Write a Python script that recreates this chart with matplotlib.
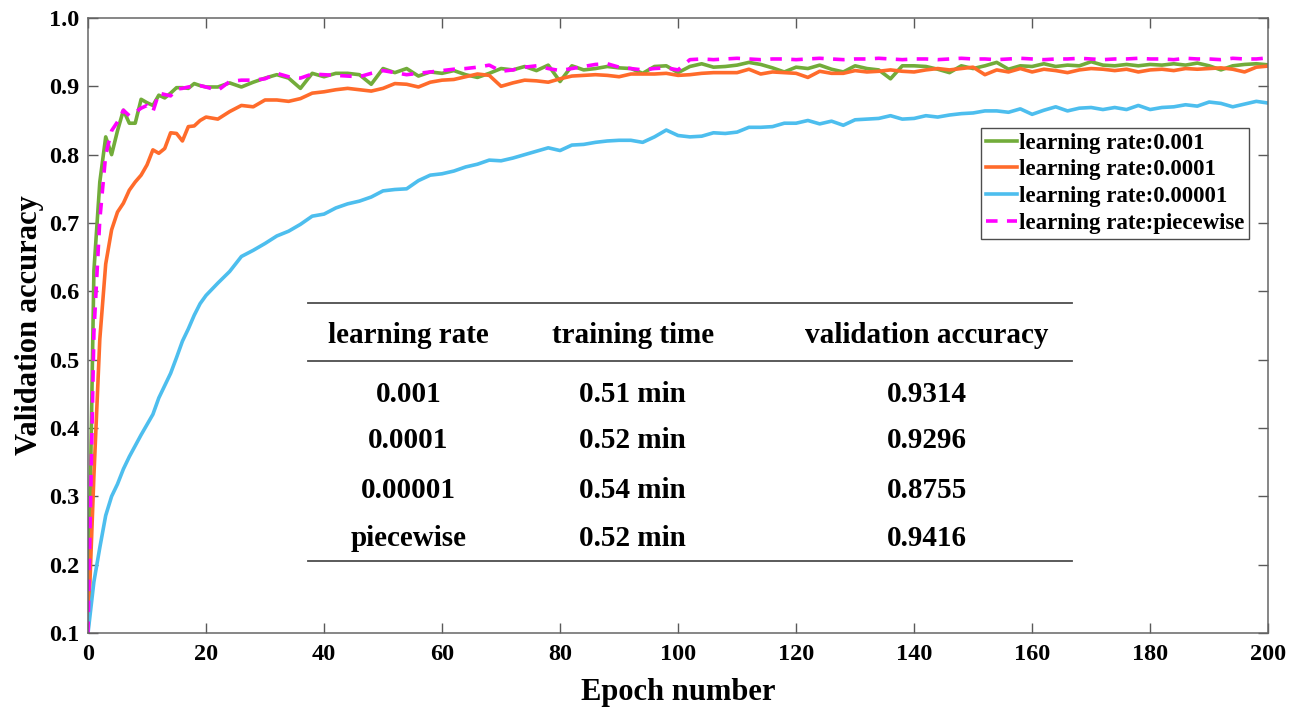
import numpy as np
import matplotlib
matplotlib.use('Agg')
import matplotlib.pyplot as plt
from matplotlib.ticker import FormatStrFormatter

plt.rcParams['font.family'] = ['Liberation Serif', 'DejaVu Serif']
plt.rcParams['font.weight'] = 'bold'
plt.rcParams['axes.labelweight'] = 'bold'

# epochs: every epoch up to 20, then every second epoch
epochs = list(range(0, 21)) + list(range(22, 201, 2))

acc_1e3 = [0.100, 0.630, 0.760, 0.826, 0.800, 0.835, 0.865, 0.846, 0.846, 0.881, 0.876,
           0.872, 0.887, 0.883, 0.890, 0.898, 0.898, 0.897, 0.904, 0.901, 0.899,
           0.899, 0.905, 0.899, 0.906, 0.912, 0.917, 0.912, 0.897, 0.919, 0.914,
           0.919, 0.919, 0.917, 0.903, 0.926, 0.920, 0.926, 0.915, 0.921, 0.919,
           0.923, 0.917, 0.913, 0.919, 0.926, 0.924, 0.929, 0.923, 0.931, 0.907,
           0.930, 0.924, 0.926, 0.929, 0.927, 0.926, 0.919, 0.929, 0.930, 0.920,
           0.929, 0.933, 0.928, 0.929, 0.931, 0.935, 0.932, 0.927, 0.921, 0.928,
           0.926, 0.931, 0.925, 0.921, 0.930, 0.926, 0.924, 0.911, 0.930, 0.930,
           0.929, 0.925, 0.920, 0.930, 0.926, 0.930, 0.935, 0.925, 0.930, 0.929,
           0.933, 0.929, 0.931, 0.930, 0.936, 0.931, 0.930, 0.932, 0.930, 0.932,
           0.931, 0.933, 0.931, 0.934, 0.930, 0.924, 0.930, 0.932, 0.933, 0.9314]

acc_1e4 = [0.100, 0.330, 0.530, 0.640, 0.690, 0.716, 0.729, 0.748, 0.760, 0.770, 0.785,
           0.807, 0.802, 0.809, 0.832, 0.831, 0.820, 0.841, 0.842, 0.850, 0.855,
           0.852, 0.863, 0.872, 0.870, 0.880, 0.880, 0.878, 0.882, 0.890, 0.892,
           0.895, 0.897, 0.895, 0.893, 0.897, 0.904, 0.903, 0.899, 0.906, 0.909,
           0.910, 0.914, 0.918, 0.916, 0.900, 0.905, 0.909, 0.908, 0.906, 0.911,
           0.915, 0.916, 0.917, 0.916, 0.914, 0.918, 0.918, 0.918, 0.919, 0.916,
           0.917, 0.919, 0.920, 0.920, 0.920, 0.925, 0.918, 0.921, 0.920, 0.919,
           0.913, 0.922, 0.919, 0.919, 0.923, 0.921, 0.922, 0.924, 0.922, 0.921,
           0.924, 0.926, 0.924, 0.926, 0.928, 0.917, 0.924, 0.921, 0.926, 0.921,
           0.925, 0.923, 0.920, 0.924, 0.926, 0.925, 0.923, 0.925, 0.921, 0.924,
           0.925, 0.923, 0.926, 0.925, 0.926, 0.927, 0.925, 0.921, 0.928, 0.9296]

acc_1e5 = [0.100, 0.175, 0.225, 0.272, 0.300, 0.318, 0.340, 0.358, 0.374, 0.390, 0.405,
           0.420, 0.444, 0.462, 0.480, 0.503, 0.527, 0.545, 0.565, 0.582, 0.594,
           0.612, 0.629, 0.651, 0.660, 0.670, 0.681, 0.688, 0.698, 0.710, 0.713,
           0.722, 0.728, 0.732, 0.738, 0.747, 0.749, 0.750, 0.762, 0.770, 0.772,
           0.776, 0.782, 0.786, 0.792, 0.791, 0.795, 0.800, 0.805, 0.810, 0.806,
           0.814, 0.815, 0.818, 0.820, 0.821, 0.821, 0.818, 0.826, 0.836, 0.828,
           0.826, 0.827, 0.832, 0.831, 0.833, 0.840, 0.840, 0.841, 0.846, 0.846,
           0.850, 0.845, 0.849, 0.843, 0.851, 0.852, 0.853, 0.857, 0.852, 0.853,
           0.857, 0.855, 0.858, 0.860, 0.861, 0.864, 0.864, 0.862, 0.867, 0.859,
           0.865, 0.870, 0.864, 0.868, 0.869, 0.866, 0.869, 0.866, 0.872, 0.866,
           0.869, 0.870, 0.873, 0.871, 0.877, 0.875, 0.870, 0.874, 0.878, 0.8755]

acc_piecewise = [0.100, 0.540, 0.705, 0.800, 0.835, 0.848, 0.865, 0.857, 0.862, 0.868, 0.872,
                 0.863, 0.890, 0.888, 0.886, 0.896, 0.897, 0.899, 0.900, 0.901, 0.899,
                 0.894, 0.907, 0.909, 0.909, 0.911, 0.919, 0.914, 0.912, 0.918, 0.917,
                 0.916, 0.915, 0.914, 0.919, 0.923, 0.920, 0.917, 0.919, 0.921, 0.923,
                 0.925, 0.926, 0.928, 0.931, 0.922, 0.924, 0.928, 0.930, 0.926, 0.923,
                 0.926, 0.929, 0.932, 0.933, 0.928, 0.926, 0.924, 0.926, 0.927, 0.924,
                 0.939, 0.940, 0.939, 0.940, 0.941, 0.940, 0.939, 0.940, 0.940, 0.939,
                 0.940, 0.941, 0.940, 0.939, 0.940, 0.940, 0.941, 0.940, 0.939, 0.940,
                 0.940, 0.939, 0.940, 0.941, 0.940, 0.940, 0.939, 0.940, 0.941, 0.940,
                 0.939, 0.940, 0.940, 0.941, 0.940, 0.939, 0.940, 0.940, 0.941, 0.940,
                 0.940, 0.939, 0.941, 0.940, 0.940, 0.939, 0.941, 0.940, 0.940, 0.9416]

# summary table
table_header = ['learning rate', 'training time', 'validation accuracy']
lr_names = ['0.001', '0.0001', '0.00001', 'piecewise']
train_times = ['0.51 min', '0.52 min', '0.54 min', '0.52 min']
final_acc = ['0.9314', '0.9296', '0.8755', '0.9416']

fig = plt.figure(figsize=(12.98, 7.16), dpi=100)
ax = fig.add_axes([0.0678, 0.1159, 0.9092, 0.8590])

lw = 2.6
ax.plot(epochs, acc_1e3, color='#72AC3A', lw=lw, label='learning rate:0.001')
ax.plot(epochs, acc_1e4, color='#FF6B2B', lw=lw, label='learning rate:0.0001')
ax.plot(epochs, acc_1e5, color='#4DBEEE', lw=lw, label='learning rate:0.00001')
ax.plot(epochs, acc_piecewise, color='#FF00FF', lw=lw, dashes=(3.2, 2.6),
        label='learning rate:piecewise')

ax.set_xlim(0, 200)
ax.set_ylim(0.1, 1.0)
ax.set_xticks(np.arange(0, 201, 20))
ax.set_yticks(np.arange(0.1, 1.01, 0.1))
ax.yaxis.set_major_formatter(FormatStrFormatter('%.1f'))
ax.tick_params(direction='in', top=True, right=True, length=7, width=1,
               color='0.35', labelsize=17.5)
ax.tick_params(axis='x', pad=8)
ax.tick_params(axis='y', pad=6)
for s in ax.spines.values():
    s.set_color('0.4')
    s.set_linewidth(1.1)

ax.set_xlabel('Epoch number', fontsize=22, labelpad=9)
ax.set_ylabel('Validation accuracy', fontsize=22, labelpad=4)

leg = ax.legend(loc='upper right', bbox_to_anchor=(0.984, 0.821), fontsize=16.5,
                frameon=True, fancybox=False, edgecolor='0.3', framealpha=1,
                handlelength=1.35, handletextpad=0.1, labelspacing=0.25,
                borderpad=0.2, borderaxespad=0)
leg.get_frame().set_linewidth(1)

# table drawn inside the axes
tr = ax.transAxes
x0, x1 = 0.1868, 0.8335
for yl in [0.5366, 0.4423, 0.1171]:
    ax.plot([x0, x1], [yl, yl], color='0.3', lw=1.3, transform=tr)

col_x = [0.2714, 0.4615, 0.7109]
for cx, txt in zip(col_x, table_header):
    ax.text(cx, 0.4830, txt, transform=tr, ha='center', va='center', fontsize=21)

row_y = [0.3870, 0.3130, 0.2320, 0.1530]
for i, ry in enumerate(row_y):
    ax.text(col_x[0], ry, lr_names[i], transform=tr, ha='center', va='center', fontsize=21)
    ax.text(col_x[1], ry, train_times[i], transform=tr, ha='center', va='center', fontsize=21)
    ax.text(col_x[2], ry, final_acc[i], transform=tr, ha='center', va='center', fontsize=21)

fig.savefig('out.png', dpi=100)
